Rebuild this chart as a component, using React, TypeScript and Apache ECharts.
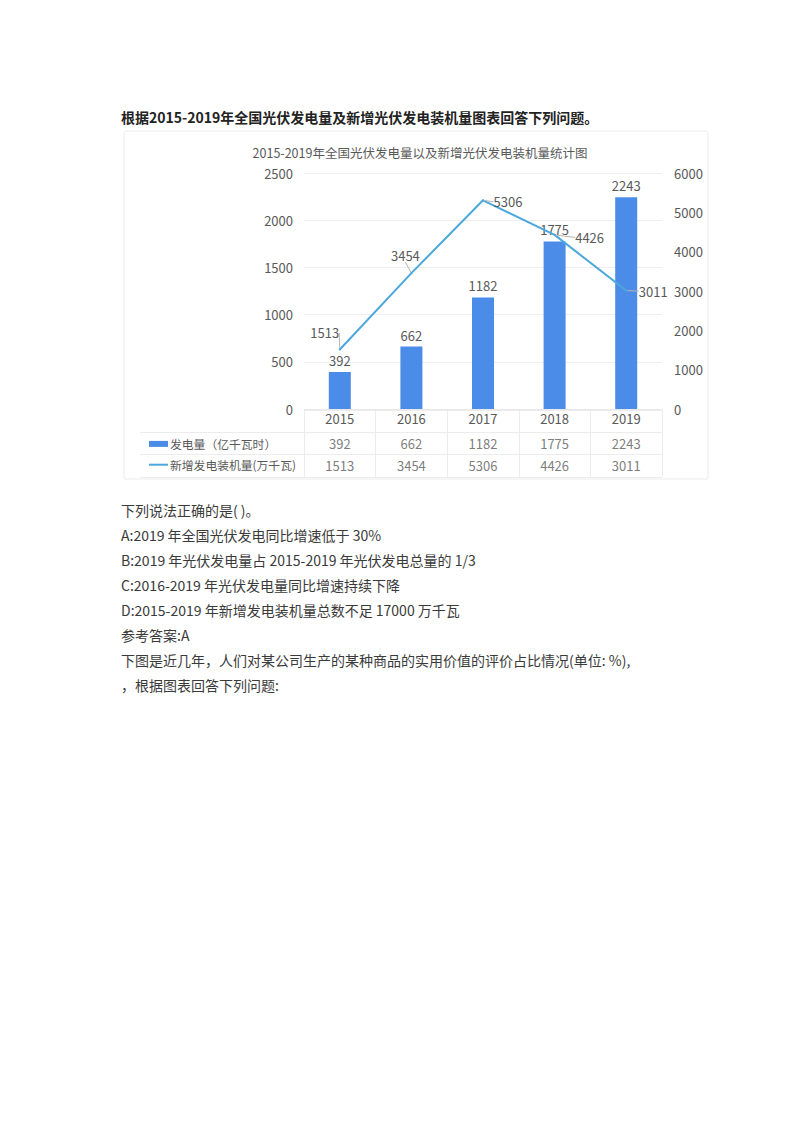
import React, { useEffect, useRef } from "react";
import * as echarts from "echarts";

const FONT = '"Noto Sans CJK SC", "Noto Sans", sans-serif';

// ---- data ----
const years = ["2015", "2016", "2017", "2018", "2019"];
const powerGen = [392, 662, 1182, 1775, 2243]; // 发电量（亿千瓦时）
const newInstalled = [1513, 3454, 5306, 4426, 3011]; // 新增发电装机量(万千瓦)
const seriesNames = ["发电量（亿千瓦时）", "新增发电装机量(万千瓦)"];
const tableRowKeys = ["年份", "发电量", "装机量"];
const chartTitle = "2015-2019年全国光伏发电量以及新增光伏发电装机量统计图";
const headLine = "根据2015-2019年全国光伏发电量及新增光伏发电装机量图表回答下列问题。";
const bodyLines = [
  "下列说法正确的是( )。",
  "A:2019 年全国光伏发电同比增速低于 30%",
  "B:2019 年光伏发电量占 2015-2019 年光伏发电总量的 1/3",
  "C:2016-2019 年光伏发电量同比增速持续下降",
  "D:2015-2019 年新增发电装机量总数不足 17000 万千瓦",
  "参考答案:A",
  "下图是近几年，人们对某公司生产的某种商品的实用价值的评价占比情况(单位: %),",
  "，根据图表回答下列问题:",
];

// label nudges for the line labels (layout only)
const lineLabelShift: [number, number][] = [
  [-15, -4],
  [-6, -5],
  [25, 14],
  [35, 15],
  [27, 13],
];

export default function App() {
  const ref = useRef<HTMLDivElement>(null);

  useEffect(() => {
    if (!ref.current) return;
    const chart = echarts.init(ref.current, null, { renderer: "svg" });

    const tableData: any[] = [];
    years.forEach((y, i) => {
      tableData.push([y, tableRowKeys[1], powerGen[i]]);
      tableData.push([y, tableRowKeys[2], newInstalled[i]]);
    });

    const graphics: any[] = [
      {
        type: "rect",
        shape: { x: 124, y: 131, width: 584, height: 348, r: 2 },
        style: { fill: "none", stroke: "#ececec", lineWidth: 1 },
        z: -1,
      },
      {
        type: "text",
        style: {
          text: headLine,
          x: 121,
          y: 117,
          textVerticalAlign: "middle",
          font: `bold 14px ${FONT}`,
          fill: "#222",
        },
      },
      ...bodyLines.map((t, i) => ({
        type: "text",
        style: {
          text: t,
          x: 121,
          y: 509.5 + i * 25,
          textVerticalAlign: "middle",
          font: `14px ${FONT}`,
          fill: "#3a3a3a",
        },
      })),
    ];

    const labelColor = "#595959";
    const plain = (v: number) => String(v);

    chart.setOption({
      animation: false,
      backgroundColor: "#ffffff",
      textStyle: { fontFamily: FONT },
      title: {
        text: chartTitle,
        left: 415,
        top: 141,
        textAlign: "center",
        textStyle: { fontSize: 12.5, fontWeight: "normal", color: labelColor, fontFamily: FONT },
      },
      legend: {
        orient: "vertical",
        left: 144,
        top: 433,
        itemWidth: 19,
        itemHeight: 14,
        itemGap: 9,
        textStyle: { fontSize: 11.8, color: labelColor, fontFamily: FONT, padding: [0, 0, 0, -3] },
        data: [
          { name: seriesNames[0], icon: "path://M0,0h19v6h-19z" },
          { name: seriesNames[1], icon: "path://M0,0h19v2h-19z" },
        ],
        selectedMode: false,
      },
      grid: [
        { left: 304, right: 138, top: 173, height: 236 },
        { left: 304, right: 138, top: 410, height: 67 },
        { left: 140, width: 164, top: 432.33, height: 44.67 },
      ],
      xAxis: [
        {
          type: "category",
          gridIndex: 0,
          data: years,
          axisLine: { lineStyle: { color: "#e8e8e8" } },
          axisTick: { show: false },
          axisLabel: { color: labelColor, fontSize: 13, margin: 3 },
        },
        {
          type: "category",
          gridIndex: 1,
          data: years,
          axisLine: { show: false },
          axisTick: { show: false },
          axisLabel: { show: false },
          splitLine: { show: true, lineStyle: { color: "#ececec" } },
        },
        {
          type: "category",
          gridIndex: 2,
          data: ["-"],
          show: false,
        },
      ],
      yAxis: [
        {
          type: "value",
          gridIndex: 0,
          min: 0,
          max: 2500,
          interval: 500,
          axisLine: { show: false },
          axisTick: { show: false },
          axisLabel: { color: labelColor, fontSize: 13, margin: 11, formatter: plain },
          splitLine: { lineStyle: { color: "#efefef" } },
        },
        {
          type: "value",
          gridIndex: 0,
          position: "right",
          min: 0,
          max: 6000,
          interval: 1000,
          axisLine: { show: false },
          axisTick: { show: false },
          axisLabel: { color: labelColor, fontSize: 13, margin: 12, formatter: plain },
          splitLine: { show: false },
        },
        {
          type: "category",
          gridIndex: 1,
          inverse: true,
          data: tableRowKeys,
          axisLine: { show: false },
          axisTick: { show: false },
          axisLabel: { show: false },
          splitLine: { show: true, lineStyle: { color: "#ececec" } },
        },
        {
          type: "category",
          gridIndex: 2,
          inverse: true,
          data: [tableRowKeys[1], tableRowKeys[2]],
          axisLine: { show: false },
          axisTick: { show: false },
          axisLabel: { show: false },
          splitLine: { show: true, lineStyle: { color: "#ececec" } },
        },
      ],
      series: [
        {
          name: seriesNames[0],
          type: "bar",
          xAxisIndex: 0,
          yAxisIndex: 0,
          data: powerGen,
          barWidth: 22,
          itemStyle: { color: "#4a8ce8" },
          label: { show: true, position: "top", distance: 5, color: labelColor, fontSize: 13 },
        },
        {
          name: seriesNames[1],
          type: "line",
          xAxisIndex: 0,
          yAxisIndex: 1,
          data: newInstalled,
          color: "#4aa8dc",
          lineStyle: { width: 2, color: "#4aa8dc" },
          symbol: "circle",
          symbolSize: 2,
          itemStyle: { color: "#4aa8dc" },
          label: { show: true, position: "top", distance: 5, color: labelColor, fontSize: 13 },
          labelLine: { show: true, lineStyle: { color: "#b5b5b5", width: 1 } },
          labelLayout: (p: any) => ({
            dx: lineLabelShift[p.dataIndex][0],
            dy: lineLabelShift[p.dataIndex][1],
          }),
        },
        {
          name: "table",
          type: "scatter",
          xAxisIndex: 1,
          yAxisIndex: 2,
          data: tableData,
          symbolSize: 1,
          silent: true,
          itemStyle: { color: "rgba(0,0,0,0)" },
          label: {
            show: true,
            position: "inside",
            color: labelColor,
            fontSize: 13,
            formatter: (p: any) => String(p.value[2]),
          },
        },
      ],
      graphic: graphics,
    });

    return () => chart.dispose();
  }, []);

  return (
    <div
      ref={ref}
      style={{ position: "absolute", left: 0, top: 0, width: 800, height: 1132, background: "#fff" }}
    />
  );
}
